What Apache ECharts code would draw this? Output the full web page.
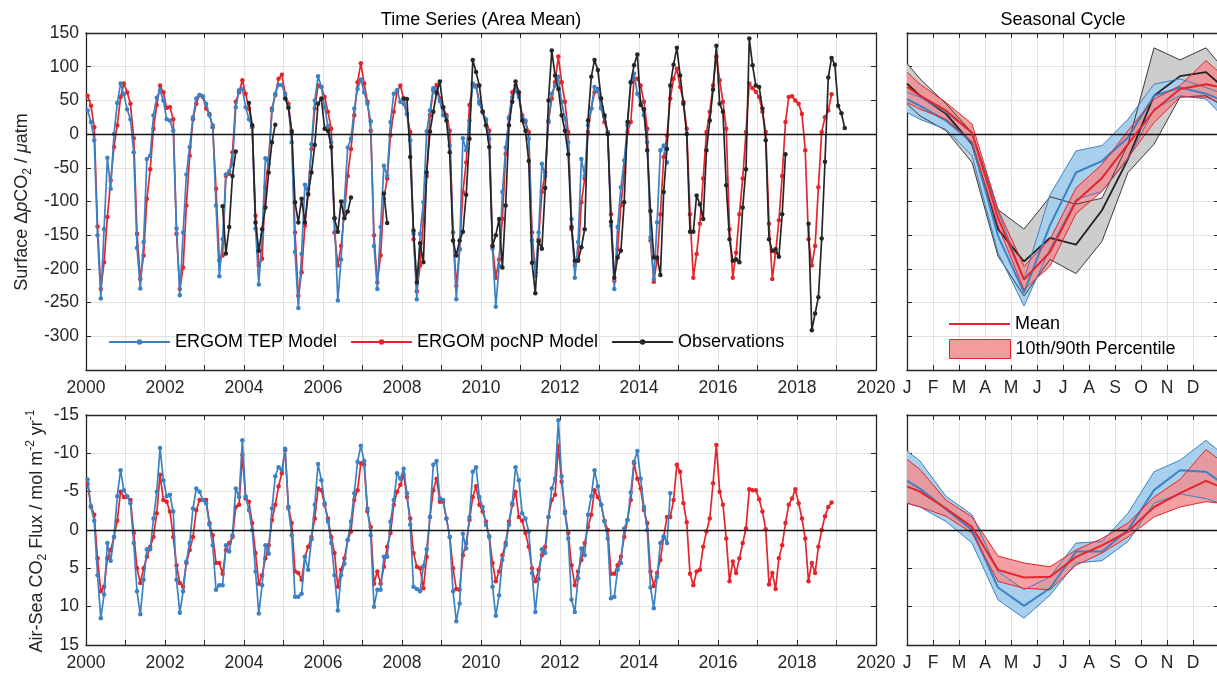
<!DOCTYPE html>
<html>
<head>
<meta charset="utf-8">
<title>ERGOM pCO2 and air-sea flux</title>
<script src="https://cdn.jsdelivr.net/npm/echarts@6/dist/echarts.min.js"></script>
<style>
  html, body { margin: 0; padding: 0; background: #fff; }
  #chart { width: 1217px; height: 673px; }
</style>
</head>
<body>
<div id="chart"></div>
<script>
// monthly values, first value = Jan of the first year
const tepPco2 = [
  35, 18, -9, -150, -244, -141, -35, -81, 0, 46, 75, 59,
  37, 22, -27, -169, -229, -160, -37, -32, 28, 54, 65, 50,
  22, 20, 5, -140, -239, -146, -60, -19, 25, 53, 58, 56,
  45, 28, 13, -106, -211, -156, -60, -55, -45, 40, 65, 67,
  40, 22, 10, -140, -223, -150, -36, -44, 35, 60, 73, 73,
  58, 40, -12, -175, -258, -178, -75, -90, -15, 50, 86, 70,
  40, 12, -12, -125, -247, -186, -100, -20, -7, 38, 67, 81,
  62, 45, 19, -166, -230, -138, -47, -62, 18, 60, 65, 48,
  45, 30, -9, -148, -245, -148, -101, 4, 35, 68, 65, 49,
  28, 25, -17, -146, -245, -171, -6, -24, 20, 75, 70, 45,
  33, 22, -7, -170, -256, -195, -86, -20, 25, 55, 65, 55,
  25, 20, -7, -158, -210, -146, -44, -62, 20, 60, 72, 85,
  48, 23, -12, -126, -213, -160, -37, -62, 13, 38, 70, 65,
  38, 25, 3, -136, -230, -138, -79, -39, 13, 77, 90, 60,
  48, 28, -12, -153, -215, -131, -24, -17, -42
];
const pocPco2 = [
  57, 42, 10, -137, -230, -190, -123, -69, -19, 13, 55, 75,
  62, 45, -6, -148, -215, -180, -96, -52, 8, 43, 72, 62,
  39, 40, 22, -148, -230, -198, -106, -32, 22, 45, 58, 55,
  38, 30, 10, -81, -188, -180, -62, -59, -27, 48, 62, 80,
  60, 38, 10, -121, -195, -185, -79, -37, 38, 58, 82, 88,
  60, 45, 5, -146, -240, -205, -136, -81, -22, 38, 72, 70,
  55, 33, 8, -146, -195, -166, -116, -62, -22, 28, 77, 105,
  75, 48, 5, -150, -220, -180, -96, -66, -2, 33, 63, 72,
  53, 30, 3, -156, -233, -195, -126, -62, 28, 65, 73, 53,
  40, 28, 5, -146, -225, -171, -86, -42, 43, 72, 72, 48,
  33, 20, 5, -166, -213, -186, -126, -29, 23, 62, 72, 58,
  28, 18, 3, -146, -205, -156, -86, -57, 18, 53, 77, 115,
  77, 48, 3, -141, -195, -186, -101, -66, 3, 38, 62, 67,
  40, 18, 3, -119, -218, -171, -106, -57, 3, 18, 82, 82,
  72, 48, 8, -158, -219, -186, -119, -34, -2, 53, 82, 97,
  70, 48, 8, -119, -213, -178, -133, -66, 3, 33, 72, 115,
  80, 48, 8, -141, -213, -176, -119, -66, 3, 75, 68, 63,
  55, 33, 3, -133, -215, -176, -128, -62, 18, 55, 56, 50,
  45, 30, -24, -156, -195, -166, -79, 3, 25, 35, 59
];
// observations start Jan 2003, null = no data
const obsPco2 = [
  null, null, null, null, null, -107, -177, -138, -62, -26, null, null,
  null, 46, 13, -131, -173, -141, -109, -57, -12, 14, null, null,
  53, 39, 3, -101, -131, -96, -131, -89, -57, -16, 45, 53,
  8, 5, -19, -125, -145, -100, -125, -115, -94, null, null, null,
  null, null, null, null, null, null, -88, -132, null, null, null, null,
  53, 52, -34, -143, -220, -162, -190, -57, 4, 33, 61, 78,
  40, 20, -27, -158, -180, -158, -145, -90, -7, 110, 92, 72,
  33, 13, -19, -166, -150, -126, -198, -106, 13, 48, 78, 62,
  20, 5, -40, -191, -236, -159, -170, -80, 50, 124, 87, 67,
  28, 5, -30, -138, -188, -188, -168, -141, 20, 85, 110, 95,
  53, 28, 0, -130, -213, -183, -173, -101, 18, 77, 102, 118,
  43, 37, -24, -114, -183, -183, -209, -86, -22, 72, 103, 128,
  87, 45, 0, -145, -145, -91, -104, -126, -24, 20, 66, 131,
  45, 33, -76, -156, -188, -186, -190, -109, -52, 142, 102, 72,
  70, 38, -9, -156, -173, -171, -182, -119, -30, null, null, null,
  null, null, null, -133, -291, -266, -242, -155, -41, 84, 113, 103,
  42, 31, 9
];
const tepFlux = [
  -6.6, -3.0, -1.2, 5.9, 11.5, 8.4, 1.7, 4.0, 0.9, -4.4, -7.8, -5.2,
  -4.4, -3.5, 1.7, 8.0, 11.0, 6.5, 2.5, 2.5, -1.5, -5.0, -10.7, -6.5,
  -4.4, -4.6, -2.4, 6.5, 10.8, 8.0, 4.1, 1.7, -2.8, -5.4, -5.0, -3.9,
  -3.5, -0.7, 2.0, 7.8, 7.2, 7.2, 2.0, 2.8, 0.7, -5.4, -4.3, -11.7,
  -4.4, -2.6, 0, 5.4, 10.9, 7.2, 2.0, 3.1, -2.8, -7.0, -8.2, -7.8,
  -10.6, -2.8, 0.7, 8.7, 8.7, 8.3, 3.5, 5.2, 1.2, -3.3, -8.6, -6.5,
  -3.5, -1.1, 1.7, 5.9, 10.5, 5.9, 4.4, 1.3, -1.1, -4.8, -8.9, -11.0,
  -9.0, -2.8, 0.7, 10.0, 7.8, 7.8, 3.5, 3.5, -1.1, -3.9, -7.4, -6.7,
  -8.0, -4.8, -0.7, 7.4, 7.7, 8.0, 4.7, 2.5, -1.7, -8.5, -9.0, -4.1,
  -3.9, -1.5, 0.9, 8.0, 11.9, 9.6, 0.5, 2.4, -1.7, -7.6, -8.2, -4.3,
  -3.0, -0.7, 0.9, 7.4, 11.2, 8.5, 3.9, 2.0, -0.7, -3.5, -8.2, -6.5,
  -2.2, -1.5, 0.2, 5.6, 10.7, 6.4, 2.5, 3.0, -1.7, -5.4, -6.7, -14.3,
  -7.0, -2.2, 1.1, 9.1, 10.7, 6.3, 2.4, 3.3, -2.0, -4.4, -7.8, -5.7,
  -3.3, -1.1, 1.1, 8.9, 8.7, 5.2, 4.3, -0.2, -1.3, -4.9, -8.9, -10.3,
  -6.7, -3.0, 0, 7.5, 10.2, 6.1, 1.7, 0.8, 1.7, -4.8
];
const pocFlux = [
  -6.0, -3.1, -2.0, 3.7, 8.0, 7.4, 3.7, 2.6, 0.9, -1.2, -5.0, -4.3,
  -4.3, -3.9, 0.4, 5.0, 6.9, 5.0, 3.5, 2.2, 0.9, -2.2, -7.2, -3.9,
  -3.7, -2.4, 0.9, 4.6, 6.9, 7.4, 4.3, 2.6, 0.9, -2.6, -3.9, -3.9,
  -3.9, -0.9, 0.7, 4.3, 4.3, 5.7, 2.6, 1.7, 0.9, -3.0, -3.3, -9.8,
  -4.1, -3.7, -0.9, 3.0, 7.0, 5.9, 3.7, 2.0, -1.3, -3.3, -5.7, -7.4,
  -10.4, -3.0, -0.9, 5.4, 5.6, 6.5, 3.5, 2.2, 0.9, -1.5, -5.4, -5.2,
  -3.3, -1.5, 0.9, 3.0, 7.4, 5.2, 3.7, 1.3, 0.2, -3.9, -5.2, -8.7,
  -8.5, -2.4, -0.4, 7.0, 5.4, 7.0, 4.8, 2.2, 0.4, -3.3, -5.0, -5.9,
  -7.2, -4.3, -1.5, 3.0, 4.8, 5.0, 7.6, 3.5, -1.7, -5.2, -6.7, -3.7,
  -3.7, -1.5, 0.9, 5.0, 7.7, 7.8, 3.3, 1.7, -1.3, -4.3, -5.7, -3.3,
  -2.4, -1.1, 0.8, 4.3, 6.7, 5.4, 3.3, 1.7, -1.1, -3.3, -5.0, -1.7,
  -1.2, 0.4, 2.2, 5.0, 6.7, 5.2, 3.3, 2.2, -1.7, -3.9, -4.6, -11.0,
  -6.3, -2.4, 0.4, 4.6, 7.2, 5.4, 3.9, 1.7, -0.4, -2.0, -5.2, -4.3,
  -3.3, -1.2, 0, 5.7, 5.7, 4.6, 3.5, 0.9, -1.3, -3.9, -8.7, -6.7,
  -5.4, -2.6, -0.9, 5.4, 7.3, 5.6, 3.9, 0.9, -1.7, -1.7, -3.9, -8.5,
  -7.6, -3.5, -1.0, 5.7, 7.2, 5.4, 5.2, 2.2, 0.2, -1.5, -6.1, -11.1,
  -5.0, -3.3, 1.1, 6.7, 4.1, 5.6, 3.7, 1.7, -0.2, -5.3, -5.2, -5.2,
  -4.0, -2.4, -0.1, 7.1, 5.6, 7.7, 3.7, 2.0, -0.9, -3.3, -4.1, -5.3,
  -3.5, -1.5, 1.1, 6.7, 4.3, 5.6, 2.2, 0, -1.8, -3.0, -3.6
];

// seasonal cycle, month positions (edges at 0 and 12)
const seasonPos = [0, 0.5, 1.5, 2.5, 3.5, 4.5, 5.5, 6.5, 7.5, 8.5, 9.5, 10.5, 11.5, 12];
const monthLabels = ['J', 'F', 'M', 'A', 'M', 'J', 'J', 'A', 'S', 'O', 'N', 'D'];

const tepSeasMean = [52, 42, 20, -12, -151, -235, -135, -57, -40, -5, 57, 69, 60, 52];
const tepSeasP10 = [32, 22, 7, -32, -176, -255, -170, -97, -85, -37, 37, 57, 52, 32];
const tepSeasP90 = [62, 55, 32, 2, -114, -216, -90, -25, -17, 22, 74, 82, 69, 62];
const pocSeasMean = [70, 57, 35, 2, -124, -216, -175, -100, -65, -15, 35, 67, 74, 70];
const pocSeasP10 = [47, 37, 22, -12, -136, -231, -196, -118, -85, -35, 17, 55, 55, 47];
const pocSeasP90 = [92, 74, 47, 15, -112, -196, -156, -80, -45, 5, 52, 72, 109, 92];
const obsSeasMean = [75, 57, 30, -15, -141, -189, -154, -164, -113, -37, 57, 86, 92, 75];
const obsSeasP10 = [45, 27, 5, -42, -181, -240, -186, -207, -159, -57, -15, 55, 57, 45];
const obsSeasP90 = [105, 82, 45, 2, -112, -141, -93, -104, -95, -15, 128, 110, 128, 105];

const tepFluxSeasMean = [-6.4, -5.4, -2.7, 0, 7.5, 9.9, 7.6, 2.8, 2.8, 0, -5.2, -7.8, -7.6, -6.4];
const tepFluxSeasP10 = [-10.3, -9.0, -4.4, -2.0, 5.4, 7.8, 6.1, 1.7, 1.5, -2.2, -7.6, -9.1, -11.7, -10.3];
const tepFluxSeasP90 = [-3.5, -3.0, -1.1, 1.7, 9.1, 11.5, 8.5, 4.3, 4.0, 1.5, -3.5, -4.7, -4.1, -3.5];
const pocFluxSeasMean = [-5.7, -5.0, -2.8, -0.4, 5.2, 6.2, 6.1, 3.5, 2.0, 0.2, -3.0, -4.8, -6.4, -5.7];
const pocFluxSeasP10 = [-9.2, -7.9, -3.9, -1.7, 3.4, 4.3, 4.8, 2.6, 1.1, -0.9, -4.3, -6.6, -10.5, -9.2];
const pocFluxSeasP90 = [-3.5, -3.0, -1.8, 0.4, 6.7, 7.6, 7.8, 4.6, 3.0, 0.9, -1.7, -3.0, -3.7, -3.5];

const FONT = "'Liberation Sans', Arial, Helvetica, sans-serif";
const AXIS = '#262626';
const BLUE = '#3b82c4';
const RED = '#e4252b';
const OBS = '#262626';

const chart = echarts.init(document.getElementById('chart'));

function monthly(values, firstYear) {
  return values.map((v, i) => [firstYear + (i + 0.5) / 12, v == null ? '-' : v]);
}
function seasonal(values) {
  return values.map((v, i) => [seasonPos[i], v]);
}

const axisLine = { show: true, onZero: false, lineStyle: { color: AXIS, width: 1.3 } };
const axisTick = { show: true, inside: true, length: 5, lineStyle: { color: AXIS, width: 1 } };
const gridLine = { show: true, lineStyle: { color: '#e2e2e2', width: 1 } };
const labelStyle = { fontSize: 17.5, color: AXIS, fontFamily: FONT };

const xAxes = [];
function addX(gridIndex, min, max, formatter) {
  xAxes.push({
    type: 'value', gridIndex, min, max, interval: 1, position: 'bottom',
    axisLine, axisTick, splitLine: gridLine,
    axisLabel: Object.assign({ margin: 9, formatter, showMinLabel: true, showMaxLabel: true }, labelStyle)
  });
  xAxes.push({
    type: 'value', gridIndex, min, max, interval: 1, position: 'top',
    axisLine, axisTick, splitLine: { show: false }, axisLabel: { show: false }
  });
}
const yearLabel = (v) => (v % 2 === 0 ? String(v) : '');
const monthLabel = (v) => (v < 12 ? monthLabels[v] : '');
addX(0, 2000, 2020, yearLabel);
addX(1, 0, 12, monthLabel);
addX(2, 2000, 2020, yearLabel);
addX(3, 0, 12, monthLabel);

const yAxes = [];
function addY(gridIndex, min, max, interval, inverse, formatter) {
  yAxes.push({
    type: 'value', gridIndex, min, max, interval, inverse, position: 'left',
    axisLine, axisTick, splitLine: gridLine,
    axisLabel: formatter
      ? Object.assign({ margin: 7, formatter, showMinLabel: true, showMaxLabel: true }, labelStyle)
      : { show: false }
  });
  yAxes.push({
    type: 'value', gridIndex, min, max, interval, inverse, position: 'right',
    axisLine, axisTick, splitLine: { show: false }, axisLabel: { show: false }
  });
}
addY(0, -350, 150, 50, false, (v) => (v === -350 ? '' : String(v)));
addY(1, -350, 150, 50, false, null);
addY(2, -15, 15, 5, true, (v) => String(v));
addY(3, -15, 15, 5, true, null);

const zeroLine = {
  silent: true, symbol: 'none', label: { show: false },
  lineStyle: { color: '#111', width: 1.3, type: 'solid' },
  emphasis: { disabled: true },
  data: [{ yAxis: 0 }]
};

function tsLine(name, data, color, axis, z, extra) {
  return Object.assign({
    name, type: 'line', xAxisIndex: axis, yAxisIndex: axis, z,
    data, symbol: 'circle', symbolSize: 4.5, showSymbol: true,
    lineStyle: { color, width: 1.7 }, itemStyle: { color },
    emphasis: { disabled: true }
  }, extra || {});
}
function seasLine(name, values, color, width, axis, z, extra) {
  return Object.assign({
    name, type: 'line', xAxisIndex: axis, yAxisIndex: axis, z,
    data: seasonal(values), symbol: 'none',
    lineStyle: { color, width }, itemStyle: { color },
    emphasis: { disabled: true }
  }, extra || {});
}
function band(name, lo, hi, fill, axis, z) {
  return {
    name, type: 'custom', xAxisIndex: axis, yAxisIndex: axis, z, silent: true,
    itemStyle: { color: fill },
    data: [[0, 0]],
    renderItem: function (params, api) {
      const pts = seasonPos.map((t, i) => api.coord([t, hi[i]]));
      for (let i = seasonPos.length - 1; i >= 0; i--) pts.push(api.coord([seasonPos[i], lo[i]]));
      return { type: 'polygon', shape: { points: pts }, style: { fill: fill } };
    }
  };
}

const series = [
  // time series, pCO2
  tsLine('ERGOM pocNP Model', monthly(pocPco2, 2000), RED, 0, 2),
  tsLine('ERGOM TEP Model', monthly(tepPco2, 2000), BLUE, 0, 3),
  tsLine('Observations', monthly(obsPco2, 2003), OBS, 0, 4, { markLine: zeroLine }),

  // seasonal cycle, pCO2
  band('obs band', obsSeasP10, obsSeasP90, '#cdcdcd', 2, 1),
  band('tep band', tepSeasP10, tepSeasP90, '#a8d0ec', 2, 1),
  band('10th/90th Percentile', pocSeasP10, pocSeasP90, 'rgba(243,140,144,0.82)', 2, 1),
  seasLine('obs p10', obsSeasP10, '#3a3a3a', 1, 2, 2),
  seasLine('obs p90', obsSeasP90, '#3a3a3a', 1, 2, 2),
  seasLine('obs mean', obsSeasMean, '#222', 1.8, 2, 3),
  seasLine('tep p10', tepSeasP10, BLUE, 1, 2, 3),
  seasLine('tep p90', tepSeasP90, BLUE, 1, 2, 3),
  seasLine('tep mean', tepSeasMean, BLUE, 2, 2, 4),
  seasLine('poc p10', pocSeasP10, RED, 1, 2, 4),
  seasLine('poc p90', pocSeasP90, RED, 1, 2, 4),
  seasLine('Mean', pocSeasMean, RED, 2, 2, 5, { markLine: zeroLine }),

  // time series, flux
  tsLine('pocNP flux', monthly(pocFlux, 2000), RED, 4, 2),
  tsLine('TEP flux', monthly(tepFlux, 2000), BLUE, 4, 3, { markLine: zeroLine }),

  // seasonal cycle, flux
  band('tep flux band', tepFluxSeasP10, tepFluxSeasP90, '#a8d0ec', 6, 1),
  band('poc flux band', pocFluxSeasP10, pocFluxSeasP90, 'rgba(243,140,144,0.82)', 6, 1),
  seasLine('tep flux p10', tepFluxSeasP10, BLUE, 1, 6, 3),
  seasLine('tep flux p90', tepFluxSeasP90, BLUE, 1, 6, 3),
  seasLine('tep flux mean', tepFluxSeasMean, BLUE, 2, 6, 4),
  seasLine('poc flux p10', pocFluxSeasP10, RED, 1, 6, 4),
  seasLine('poc flux p90', pocFluxSeasP90, RED, 1, 6, 4),
  seasLine('poc flux mean', pocFluxSeasMean, RED, 2, 6, 5, { markLine: zeroLine })
];

const legendText = { fontSize: 18, color: '#000', fontFamily: FONT };

const option = {
  animation: false,
  backgroundColor: '#fff',
  textStyle: { fontFamily: FONT },
  grid: [
    { left: 86, top: 33, width: 790, height: 337, outerBoundsMode: 'none' },
    { left: 907, top: 33, width: 312, height: 337, outerBoundsMode: 'none' },
    { left: 86, top: 415, width: 790, height: 230, outerBoundsMode: 'none' },
    { left: 907, top: 415, width: 312, height: 230, outerBoundsMode: 'none' }
  ],
  xAxis: xAxes,
  yAxis: yAxes,
  legend: [
    {
      data: ['ERGOM TEP Model', 'ERGOM pocNP Model', 'Observations'],
      left: 108, top: 333, padding: 0, itemWidth: 61, itemHeight: 7, itemGap: 13,
      selectedMode: false, textStyle: legendText
    },
    {
      data: [{ name: 'Mean', icon: 'rect', itemStyle: { color: RED } }],
      left: 949, top: 315, padding: 0, itemWidth: 61, itemHeight: 2,
      selectedMode: false, textStyle: legendText
    },
    {
      data: [{
        name: '10th/90th Percentile', icon: 'rect',
        itemStyle: { color: '#f59a9d', borderColor: RED, borderWidth: 1 }
      }],
      left: 949, top: 339, padding: 0, itemWidth: 61, itemHeight: 19,
      selectedMode: false, textStyle: legendText
    }
  ],
  graphic: [
    {
      type: 'text', x: 481, y: 20, silent: true,
      style: { text: 'Time Series (Area Mean)', fontSize: 18, fontFamily: FONT, fill: '#000', align: 'center', verticalAlign: 'middle' }
    },
    {
      type: 'text', x: 1063, y: 20, silent: true,
      style: { text: 'Seasonal Cycle', fontSize: 18, fontFamily: FONT, fill: '#000', align: 'center', verticalAlign: 'middle' }
    },
    {
      type: 'text', x: 22, y: 202, rotation: Math.PI / 2, silent: true,
      style: {
        text: 'Surface Δ{i|p}CO{sub|2} / {i|μ}atm',
        fontSize: 18, fontFamily: FONT, fill: AXIS, align: 'center', verticalAlign: 'middle', lineHeight: 24,
        rich: {
          i: { fontSize: 18, fontStyle: 'italic', fontFamily: FONT, fill: AXIS, lineHeight: 24 },
          sub: { fontSize: 12, fontFamily: FONT, fill: AXIS, verticalAlign: 'bottom', lineHeight: 24 }
        }
      }
    },
    {
      type: 'text', x: 37, y: 531, rotation: Math.PI / 2, silent: true,
      style: {
        text: 'Air-Sea CO{sub|2} Flux / mol m{sup|-2} yr{sup|-1}',
        fontSize: 18, fontFamily: FONT, fill: AXIS, align: 'center', verticalAlign: 'middle', lineHeight: 24,
        rich: {
          sub: { fontSize: 12, fontFamily: FONT, fill: AXIS, verticalAlign: 'bottom', lineHeight: 24 },
          sup: { fontSize: 12, fontFamily: FONT, fill: AXIS, verticalAlign: 'top', lineHeight: 24 }
        }
      }
    }
  ],
  series: series
};

chart.setOption(option);
</script>
</body>
</html>
